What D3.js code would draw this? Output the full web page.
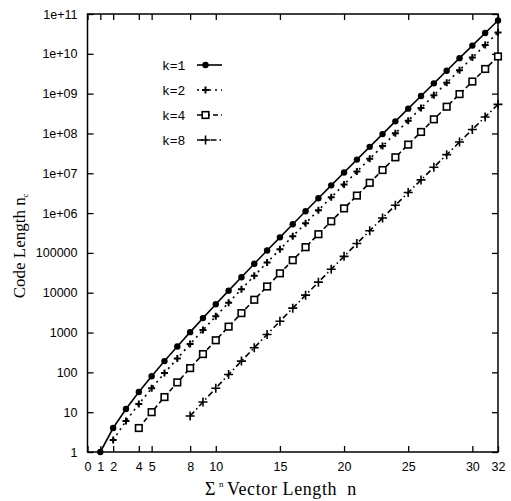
<!DOCTYPE html>
<html>
<head>
<meta charset="utf-8">
<script src="https://cdn.jsdelivr.net/npm/d3@7/dist/d3.min.js"></script>
<style>
  body { margin: 0; background: #fff; }
  svg { display: block; }
</style>
</head>
<body>
<div id="chart"></div>
<script>
// n values for each curve
var n_k1 = d3.range(1, 33)
var n_k2 = d3.range(2, 33)
var n_k4 = d3.range(4, 33)
var n_k8 = d3.range(8, 33)

// code length
var len_k1 = [1, 4, 12, 32, 80, 192, 448, 1024, 2304, 5120, 11264, 24576, 53248, 114688,
	245760, 524288, 1114112, 2359296, 4980736, 10485760, 22020096, 46137344, 96468992,
	201326592, 419430400, 872415232, 1811939328, 3758096384, 7784628224, 16106127360,
	33285996544, 68719476736]
var len_k2 = [2, 6, 16, 40, 96, 224, 512, 1152, 2560, 5632, 12288, 26624, 57344, 122880,
	262144, 557056, 1179648, 2490368, 5242880, 11010048, 23068672, 48234496, 100663296,
	209715200, 436207616, 905969664, 1879048192, 3892314112, 8053063680, 16642998272,
	34359738368]
var len_k4 = [4, 10, 24, 56, 128, 288, 640, 1408, 3072, 6656, 14336, 30720, 65536, 139264,
	294912, 622592, 1310720, 2752512, 5767168, 12058624, 25165824, 52428800, 109051904,
	226492416, 469762048, 973078528, 2013265920, 4160749568, 8589934592]
var len_k8 = [8, 18, 40, 88, 192, 416, 896, 1920, 4096, 8704, 18432, 38912, 81920, 172032,
	360448, 753664, 1572864, 3276800, 6815744, 14155776, 29360128, 60817408, 125829120,
	260046848, 536870912]

var series_names = ["k=1", "k=2", "k=4", "k=8"]

var x_ticks = [0, 1, 2, 4, 5, 8, 10, 15, 20, 25, 30, 32]
var y_ticks = [1, 10, 100, 1000, 10000, 100000, 1e6, 1e7, 1e8, 1e9, 1e10, 1e11]
var y_tick_labels = ["1", "10", "100", "1000", "10000", "100000", "1e+06", "1e+07",
	"1e+08", "1e+09", "1e+10", "1e+11"]

var width = 511
var height = 501
var pl = 87.5, pr = 498, pt = 14, pb = 452

var svg = d3.select("#chart").append("svg")
	.attr("width", width)
	.attr("height", height)

var x = d3.scaleLinear().domain([0, 32]).range([pl, pr])
var y = d3.scaleLog().domain([1, 1e11]).range([pb, pt])

var tick_font = "'Liberation Sans', Arial, sans-serif"

// frame
svg.append("rect")
	.attr("x", pl).attr("y", pt)
	.attr("width", pr - pl).attr("height", pb - pt)
	.attr("fill", "none").attr("stroke", "#000").attr("stroke-width", 1.5)

// axes with inward ticks
svg.append("g")
	.attr("transform", "translate(0," + pb + ")")
	.call(d3.axisBottom(x).tickValues(x_ticks).tickFormat(d3.format("d")).tickSize(-6).tickPadding(10))
svg.append("g")
	.attr("transform", "translate(0," + pt + ")")
	.call(d3.axisTop(x).tickValues(x_ticks).tickFormat("").tickSize(-6))
svg.append("g")
	.attr("transform", "translate(" + pl + ",0)")
	.call(d3.axisLeft(y).tickValues(y_ticks).tickFormat(function (d, i) { return y_tick_labels[i] })
		.tickSize(-6).tickPadding(10))
svg.append("g")
	.attr("transform", "translate(" + pr + ",0)")
	.call(d3.axisRight(y).tickValues(y_ticks).tickFormat("").tickSize(-6))

svg.selectAll(".domain").remove()
svg.selectAll(".tick line").attr("stroke", "#000").attr("stroke-width", 1.3)
svg.selectAll(".tick text")
	.attr("fill", "#000")
	.style("font-family", tick_font)
	.style("font-size", "12.5px")

// series
var series = [
	{name: series_names[0], n: n_k1, v: len_k1, dash: null, marker: "dot"},
	{name: series_names[1], n: n_k2, v: len_k2, dash: "2,4", marker: "plus"},
	{name: series_names[2], n: n_k4, v: len_k4, dash: "5,3", marker: "square"},
	{name: series_names[3], n: n_k8, v: len_k8, dash: "6,3,1.5,3", marker: "cross"}
]

var line = d3.line()
	.x(function (d) { return x(d[0]) })
	.y(function (d) { return y(d[1]) })

function draw_marker(g, type, cx, cy) {
	if (type == "dot") {
		g.append("circle").attr("cx", cx).attr("cy", cy).attr("r", 3.2).attr("fill", "#000")
	} else if (type == "plus") {
		g.append("path")
			.attr("d", "M" + (cx - 3.5) + "," + cy + "h7M" + cx + "," + (cy - 3.5) + "v7")
			.attr("stroke", "#000").attr("stroke-width", 2)
	} else if (type == "square") {
		g.append("rect").attr("x", cx - 3.3).attr("y", cy - 3.3)
			.attr("width", 6.6).attr("height", 6.6)
			.attr("fill", "#fff").attr("stroke", "#000").attr("stroke-width", 1.6)
	} else {
		g.append("path")
			.attr("d", "M" + (cx - 4.5) + "," + cy + "h9M" + cx + "," + (cy - 4.5) + "v9")
			.attr("stroke", "#000").attr("stroke-width", 1.6)
	}
}

series.forEach(function (s) {
	var pts = s.n.map(function (n, i) { return [n, s.v[i]] })
	svg.append("path")
		.datum(pts)
		.attr("d", line)
		.attr("fill", "none")
		.attr("stroke", "#000")
		.attr("stroke-width", 1.6)
		.attr("stroke-dasharray", s.dash)
	var g = svg.append("g")
	pts.forEach(function (p) { draw_marker(g, s.marker, x(p[0]), y(p[1])) })
})

// legend
series.forEach(function (s, i) {
	var ly = 65 + i * 25
	svg.append("text")
		.attr("x", 162).attr("y", ly + 4.5)
		.style("font-family", "'Liberation Mono', 'Courier New', monospace")
		.style("font-size", "13px")
		.text(s.name)
	svg.append("line")
		.attr("x1", 197).attr("x2", 222).attr("y1", ly).attr("y2", ly)
		.attr("stroke", "#000").attr("stroke-width", 1.6)
		.attr("stroke-dasharray", s.dash)
	draw_marker(svg, s.marker, 205.5, ly)
})

// axis titles
var serif = "'Liberation Serif', 'Times New Roman', serif"
var xtitle = svg.append("text")
	.attr("x", 281).attr("y", 495)
	.attr("text-anchor", "middle")
	.style("font-family", serif)
	.style("font-size", "18px")
	.style("letter-spacing", "0.6px")
xtitle.append("tspan").text("\u03a3")
xtitle.append("tspan").attr("dy", -8).style("font-size", "9px").text(" n ")
xtitle.append("tspan").attr("dy", 8).text("Vector Length \u00a0n")

var ytitle = svg.append("text")
	.attr("transform", "translate(25,246) rotate(-90)")
	.attr("text-anchor", "middle")
	.style("font-family", serif)
	.style("font-size", "17px")
ytitle.append("tspan").text("Code Length n")
ytitle.append("tspan").attr("dy", 3).style("font-size", "8px").text("c")
</script>
</body>
</html>
